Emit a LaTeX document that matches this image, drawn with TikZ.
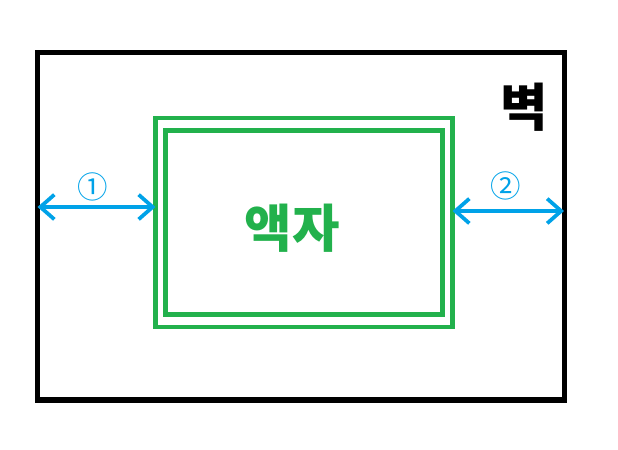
\documentclass[tikz,border=0pt]{standalone}
\usepackage{fontspec}
\newfontfamily\krfont{Noto Sans CJK KR}
\usetikzlibrary{arrows.meta,positioning}
\definecolor{wallBlack}{HTML}{000000}
\definecolor{frameGreen}{HTML}{22B14C}
\definecolor{gapBlue}{HTML}{00A2E8}

\tikzset{
  wallbox/.style={draw=wallBlack, line width=4.3pt, outer sep=0pt, inner sep=0pt},
  framebox/.style={draw=frameGreen, line width=3.8pt, outer sep=0pt, inner sep=0pt},
  gaparrow/.style={gapBlue, line width=3.6pt, {Straight Barb[length=4.2mm, width=7.4mm, line width=3.2pt]}-{Straight Barb[length=4.2mm, width=7.4mm, line width=3.2pt]}},
  gaplabel/.style={text=gapBlue, font=\krfont\fontsize{26}{28}\selectfont, inner sep=0pt}
}

\begin{document}
\begin{tikzpicture}[x=0.03cm, y=-0.03cm]
  \useasboundingbox (0,0) rectangle (618,449);
  % wall and the frame inside it
  \node[wallbox, minimum width=15.795cm, minimum height=10.425cm] (wall) at (300.75,226.25) {};
  \node[framebox, minimum width=8.91cm, minimum height=6.27cm] (frameout) at (304,222.5) {};
  \node[framebox, minimum width=8.31cm, minimum height=5.52cm] (framein) at (frameout.center) {};
  \node[text=frameGreen, font=\krfont\bfseries\fontsize{44}{48}\selectfont, inner sep=0pt] (framelabel) at (292,228) {액자};
  \node[text=wallBlack, font=\krfont\bfseries\fontsize{44}{48}\selectfont, inner sep=0pt] (walllabel) at (524,107) {벽};
  % gaps on both sides
  \draw[gaparrow] (wall.west |- 0,207) -- (frameout.west |- 0,207);
  \draw[gaparrow] (frameout.east |- 0,211) -- (wall.east |- 0,211);
  \node[gaplabel] (gapone) at (92.5,187) {①};
  \node[gaplabel] (gaptwo) at (506,186) {②};
\end{tikzpicture}
\end{document}
